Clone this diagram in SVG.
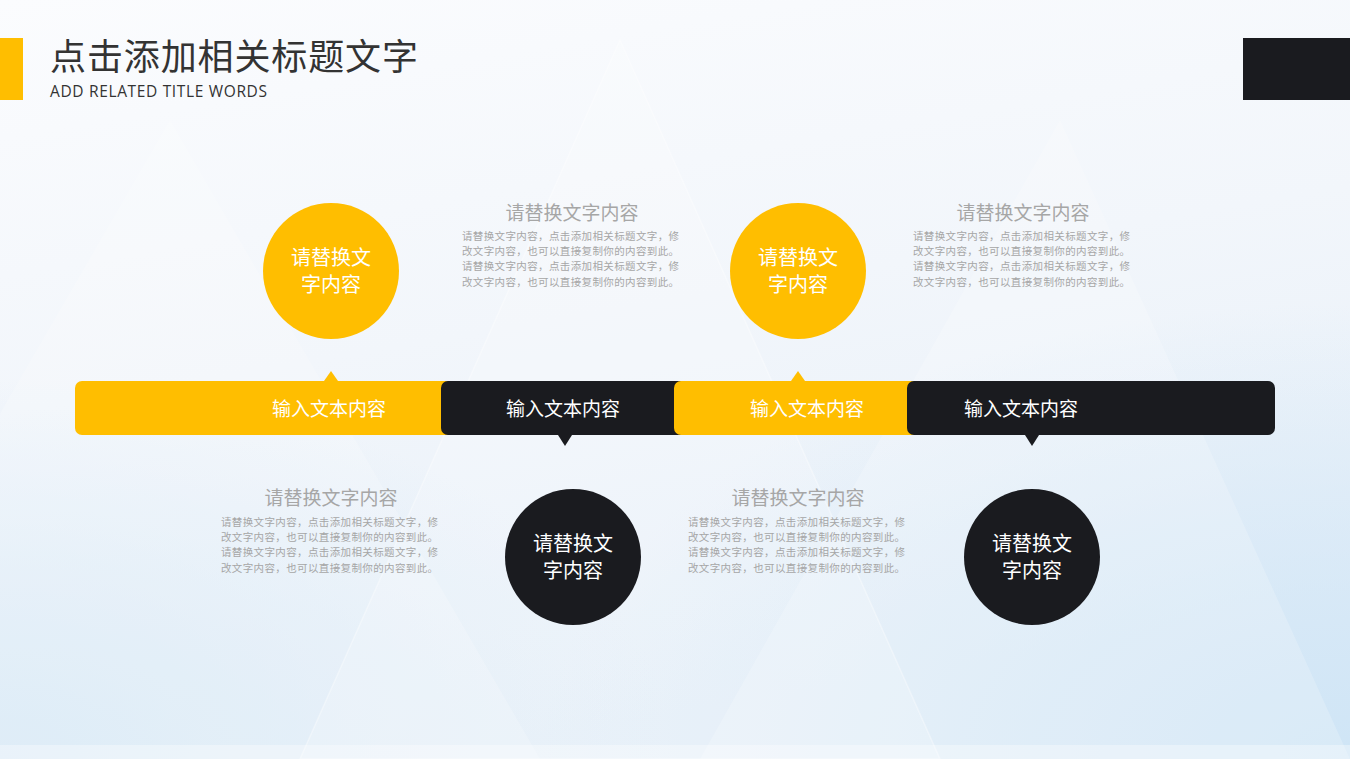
<svg xmlns="http://www.w3.org/2000/svg" width="1350" height="759" viewBox="0 0 1350 759">
<defs>
<linearGradient id="bg" x1="0" y1="0" x2="0.3" y2="1">
<stop offset="0" stop-color="#fbfcfe"/>
<stop offset="0.5" stop-color="#f2f6fb"/>
<stop offset="1" stop-color="#e6eff8"/>
</linearGradient>
<radialGradient id="rb" cx="1" cy="1" r="0.6">
<stop offset="0" stop-color="#cfe5f6"/>
<stop offset="1" stop-color="#cfe5f6" stop-opacity="0"/>
</radialGradient>
<radialGradient id="lb" cx="0" cy="1" r="0.5">
<stop offset="0" stop-color="#d6e8f6"/>
<stop offset="1" stop-color="#d6e8f6" stop-opacity="0"/>
</radialGradient>
<style>
.yel{fill:#FFBE00}
.blk{fill:#1A1B1F}
.lbl{font-family:"Microsoft YaHei","Noto Sans CJK SC",sans-serif;font-size:19px;fill:#fff;text-anchor:middle}
.ct{font-family:"Microsoft YaHei","Noto Sans CJK SC",sans-serif;font-size:20px;fill:#fff;text-anchor:middle}
.ht{font-family:"Microsoft YaHei","Noto Sans CJK SC",sans-serif;font-size:19px;fill:#a6a6a6;text-anchor:middle}
.bt{font-family:"Microsoft YaHei","Noto Sans CJK SC",sans-serif;font-size:10.5px;fill:#a6a6a6}
.tri{fill:#ffffff;opacity:0.2}
</style>
</defs>
<rect width="1350" height="759" fill="url(#bg)"/>
<rect width="1350" height="759" fill="url(#rb)"/>
<rect width="1350" height="759" fill="url(#lb)"/>
<g id="bg-tris">
<polygon class="tri" points="620,40 300,759 940,759"/>
<polygon class="tri" points="170,120 -200,759 540,759"/>
<polygon class="tri" points="1060,120 700,759 1350,759"/>
<polygon points="620,40 300,759 940,759" fill="none" stroke="#ffffff" stroke-opacity="0.35" stroke-width="1.5"/>
<rect y="745" width="1350" height="14" fill="#ffffff" opacity="0.35"/>
</g>
<g id="header">
<rect x="0" y="38" width="23" height="62" class="yel"/>
<text x="50" y="70" font-family="Microsoft YaHei,'Noto Sans CJK SC',sans-serif" font-size="36" fill="#333333" textLength="368">点击添加相关标题文字</text>
<text x="50" y="97" font-family="'Open Sans','Noto Sans',sans-serif" font-size="15.5" fill="#333333" textLength="217">ADD RELATED TITLE WORDS</text>
<rect x="1243" y="38" width="107" height="62" class="blk"/>
</g>
<g id="bar1">
<polygon class="yel" points="324,381 331,371 338,381"/>
<rect x="75" y="381" width="400" height="54" rx="7" class="yel"/>
<text x="329" y="416" class="lbl">输入文本内容</text>
</g>
<g id="bar2">
<rect x="441" y="381" width="260" height="54" rx="7" class="blk"/>
<polygon class="blk" points="558,435 565,446 572,435"/>
<text x="563" y="416" class="lbl">输入文本内容</text>
</g>
<g id="bar3">
<polygon class="yel" points="791,381 798,371 805,381"/>
<rect x="674" y="381" width="260" height="54" rx="7" class="yel"/>
<text x="807" y="416" class="lbl">输入文本内容</text>
</g>
<g id="bar4">
<rect x="907" y="381" width="368" height="54" rx="7" class="blk"/>
<polygon class="blk" points="1025,435 1032,446 1039,435"/>
<text x="1021" y="416" class="lbl">输入文本内容</text>
</g>
<g id="circle1">
<circle cx="331" cy="271" r="68" class="yel"/>
<text x="331" y="265" class="ct">请替换文</text>
<text x="331" y="292" class="ct">字内容</text>
</g>
<g id="circle2">
<circle cx="798" cy="271" r="68" class="yel"/>
<text x="798" y="265" class="ct">请替换文</text>
<text x="798" y="292" class="ct">字内容</text>
</g>
<g id="circle3">
<circle cx="573" cy="557" r="68" class="blk"/>
<text x="573" y="551" class="ct">请替换文</text>
<text x="573" y="578" class="ct">字内容</text>
</g>
<g id="circle4">
<circle cx="1032" cy="557" r="68" class="blk"/>
<text x="1032" y="551" class="ct">请替换文</text>
<text x="1032" y="578" class="ct">字内容</text>
</g>
<g id="text1">
<text x="572" y="220" class="ht">请替换文字内容</text>
<text x="462" y="240" class="bt" textLength="217">请替换文字内容，点击添加相关标题文字，修</text>
<text x="462" y="255" class="bt" textLength="217">改文字内容，也可以直接复制你的内容到此。</text>
<text x="462" y="270" class="bt" textLength="217">请替换文字内容，点击添加相关标题文字，修</text>
<text x="462" y="286" class="bt" textLength="217">改文字内容，也可以直接复制你的内容到此。</text>
</g>
<g id="text2">
<text x="1023" y="220" class="ht">请替换文字内容</text>
<text x="913" y="240" class="bt" textLength="217">请替换文字内容，点击添加相关标题文字，修</text>
<text x="913" y="255" class="bt" textLength="217">改文字内容，也可以直接复制你的内容到此。</text>
<text x="913" y="270" class="bt" textLength="217">请替换文字内容，点击添加相关标题文字，修</text>
<text x="913" y="286" class="bt" textLength="217">改文字内容，也可以直接复制你的内容到此。</text>
</g>
<g id="text3">
<text x="331" y="505" class="ht">请替换文字内容</text>
<text x="221" y="526" class="bt" textLength="217">请替换文字内容，点击添加相关标题文字，修</text>
<text x="221" y="541" class="bt" textLength="217">改文字内容，也可以直接复制你的内容到此。</text>
<text x="221" y="556" class="bt" textLength="217">请替换文字内容，点击添加相关标题文字，修</text>
<text x="221" y="572" class="bt" textLength="217">改文字内容，也可以直接复制你的内容到此。</text>
</g>
<g id="text4">
<text x="798" y="505" class="ht">请替换文字内容</text>
<text x="688" y="526" class="bt" textLength="217">请替换文字内容，点击添加相关标题文字，修</text>
<text x="688" y="541" class="bt" textLength="217">改文字内容，也可以直接复制你的内容到此。</text>
<text x="688" y="556" class="bt" textLength="217">请替换文字内容，点击添加相关标题文字，修</text>
<text x="688" y="572" class="bt" textLength="217">改文字内容，也可以直接复制你的内容到此。</text>
</g>
<g id="connectors"/>
</svg>
